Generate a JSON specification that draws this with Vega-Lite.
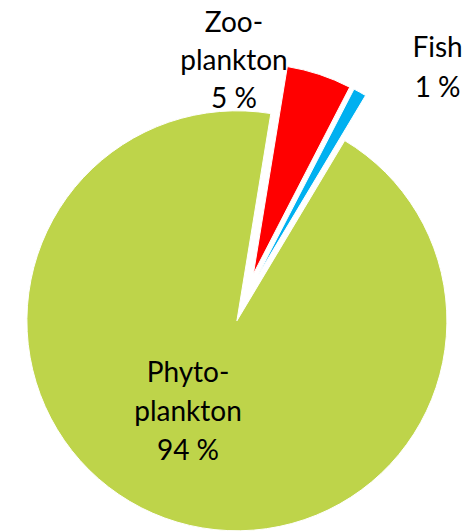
{
  "$schema": "https://vega.github.io/schema/vega-lite/v6.json",
  "width": 461,
  "height": 469,
  "padding": {"left": 15, "top": 63, "right": 0, "bottom": 0},
  "autosize": {"type": "none"},
  "background": "white",
  "config": {"view": {"stroke": null}},
  "data": {
    "values": [
      {"group": "Zooplankton", "label": "Zoo-\nplankton\n5 %", "value": 5, "order": 1},
      {"group": "Fish", "label": "Fish\n1 %", "value": 1, "order": 2},
      {"group": "Phytoplankton", "label": "Phyto-\nplankton\n94 %", "value": 94, "order": 3}
    ]
  },
  "transform": [
    {"stack": "value", "groupby": [], "sort": [{"field": "order", "order": "ascending"}], "as": ["v0", "v1"]}
  ],
  "layer": [
    {
      "transform": [{"filter": {"field": "group", "equal": "Phytoplankton"}}],
      "mark": {"type": "arc", "radius": 210, "xOffset": -8.6, "yOffset": 23.3, "stroke": "white", "strokeWidth": 1, "color": "#BED44A"},
      "encoding": {
        "theta": {"field": "v0", "type": "quantitative", "scale": {"domain": [0, 100], "range": [0.1623, 6.4455]}},
        "theta2": {"field": "v1"}
      }
    },
    {
      "transform": [{"filter": {"field": "group", "equal": "Zooplankton"}}],
      "mark": {"type": "arc", "radius": 210, "xOffset": 7.9, "yOffset": -23.7, "stroke": "white", "strokeWidth": 1, "color": "#FF0000"},
      "encoding": {
        "theta": {"field": "v0", "type": "quantitative"},
        "theta2": {"field": "v1"}
      }
    },
    {
      "transform": [{"filter": {"field": "group", "equal": "Fish"}}],
      "mark": {"type": "arc", "radius": 210, "xOffset": 12.2, "yOffset": -21.8, "stroke": "white", "strokeWidth": 1, "color": "#00B0F0"},
      "encoding": {
        "theta": {"field": "v0", "type": "quantitative"},
        "theta2": {"field": "v1"}
      }
    },
    {
      "transform": [{"filter": {"field": "group", "equal": "Zooplankton"}}],
      "mark": {"type": "text", "radius": 269, "dx": -55, "dy": 0, "font": "Lato", "fontSize": 28, "lineHeight": 38, "lineBreak": "\n", "align": "center", "baseline": "alphabetic", "color": "black"},
      "encoding": {
        "theta": {"field": "v0", "type": "quantitative", "stack": null},
        "text": {"field": "label"}
      }
    },
    {
      "transform": [{"filter": {"field": "group", "equal": "Fish"}}],
      "mark": {"type": "text", "radius": 270.6, "dx": 68, "dy": 0, "font": "Lato", "fontSize": 28, "lineHeight": 40, "lineBreak": "\n", "align": "center", "baseline": "alphabetic", "color": "black"},
      "encoding": {
        "theta": {"field": "v0", "type": "quantitative", "stack": null},
        "text": {"field": "label"}
      }
    },
    {
      "transform": [{"filter": {"field": "group", "equal": "Phytoplankton"}}],
      "mark": {"type": "text", "radius": 0, "dx": -57.5, "dy": 84.5, "font": "Lato", "fontSize": 28, "lineHeight": 39, "lineBreak": "\n", "align": "center", "baseline": "alphabetic", "color": "black"},
      "encoding": {
        "theta": {"field": "v0", "type": "quantitative", "stack": null},
        "text": {"field": "label"}
      }
    }
  ]
}
